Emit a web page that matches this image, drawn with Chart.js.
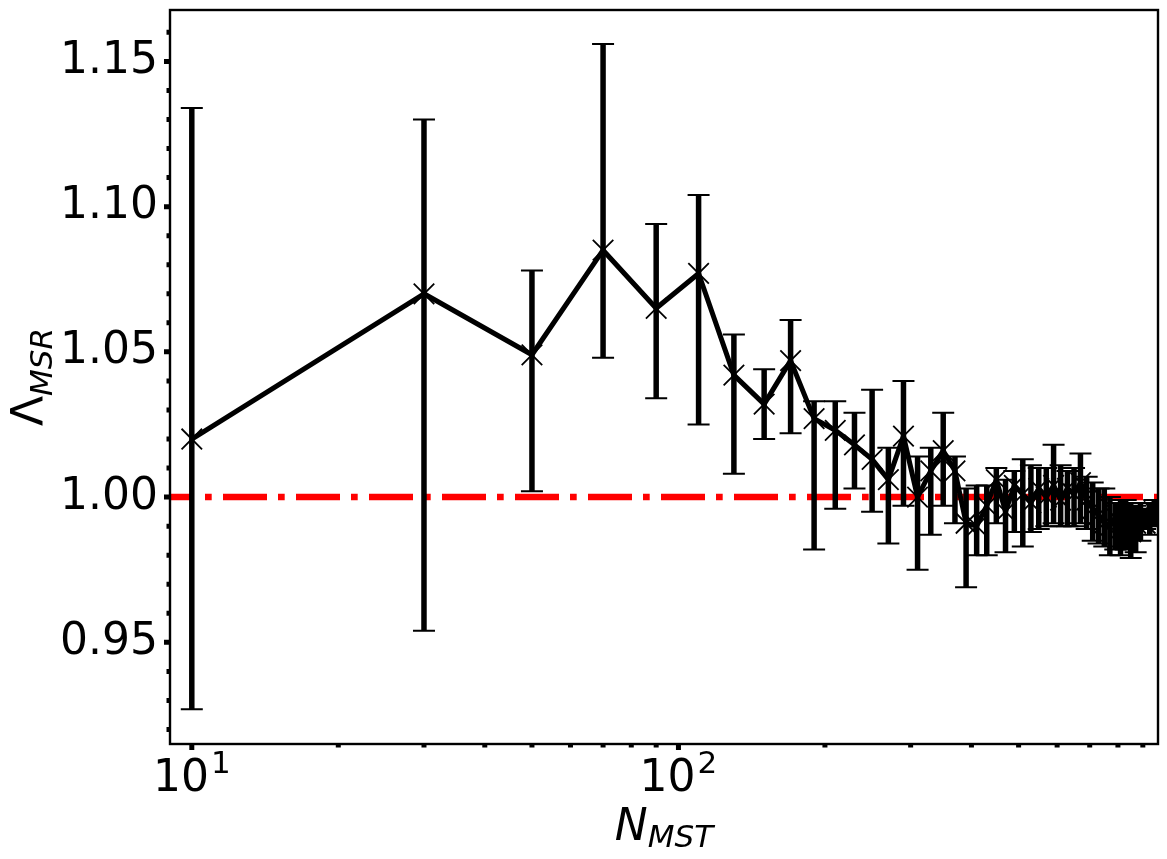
<!DOCTYPE html>
<html>
<head>
<meta charset="utf-8">
<script src="https://cdn.jsdelivr.net/npm/chart.js@4.4.1/dist/chart.umd.min.js"></script>
<style>
  html, body { margin: 0; padding: 0; background: #fff; }
  canvas { display: block; }
</style>
</head>
<body>
<canvas id="chart" width="1167" height="859"></canvas>
<script>
/* data */
var nMst = [10, 30, 50, 70, 90, 110, 130, 150, 170, 190, 210, 230, 250, 270, 290, 310,
            330, 350, 370, 390, 410, 430, 450, 470, 490, 510, 530, 550, 570, 590, 610, 630,
            650, 670, 690, 710, 730, 750, 770, 790, 810, 830, 850, 870, 890, 910, 930, 950];

var lambdaMsr = [1.020, 1.070, 1.049, 1.085, 1.065, 1.077, 1.042, 1.032, 1.047, 1.027, 1.023, 1.018, 1.013, 1.006, 1.021, 1.000,
                 1.009, 1.016, 1.009, 0.991, 0.990, 0.997, 1.006, 0.995, 1.004, 1.001, 0.998, 1.003, 1.000, 1.004, 0.999, 1.003,
                 1.001, 1.005, 0.999, 0.996, 0.994, 0.991, 0.990, 0.993, 0.989, 0.992, 0.988, 0.991, 0.994, 0.991, 0.993, 0.995];

var errHigh = [1.134, 1.130, 1.078, 1.156, 1.094, 1.104, 1.056, 1.044, 1.061, 1.033, 1.033, 1.029, 1.037, 1.017, 1.040, 1.014,
               1.017, 1.029, 1.014, 1.003, 1.004, 1.004, 1.010, 1.006, 1.009, 1.013, 1.011, 1.010, 1.010, 1.018, 1.011, 1.009,
               1.010, 1.015, 1.007, 1.005, 1.003, 1.003, 1.000, 0.998, 0.999, 0.999, 0.998, 0.997, 0.998, 0.996, 0.998, 0.999];

var errLow = [0.927, 0.954, 1.002, 1.048, 1.034, 1.025, 1.008, 1.020, 1.022, 0.982, 0.996, 1.003, 0.995, 0.984, 0.997, 0.975,
              0.987, 0.997, 0.991, 0.969, 0.980, 0.980, 0.991, 0.981, 0.988, 0.983, 0.988, 0.989, 0.990, 0.991, 0.990, 0.990,
              0.990, 0.991, 0.989, 0.985, 0.984, 0.983, 0.980, 0.982, 0.980, 0.982, 0.979, 0.981, 0.985, 0.989, 0.987, 0.990];

var refLevel = 1.0;

var yTickValues = [0.95, 1.00, 1.05, 1.10, 1.15];
var yTickLabels = ['0.95', '1.00', '1.05', '1.10', '1.15'];
var xTickValues = [10, 100];
var xTickBases = ['10', '10'];
var xTickExps = ['1', '2'];

var xMin = 9.02, xMax = 967;
var yMin = 0.915, yMax = 1.1677;

var FONT = '"DejaVu Sans", "Liberation Sans", sans-serif';

/* error bars, frame, ticks, axis labels */
var mplDecor = {
  id: 'mplDecor',
  afterDatasetsDraw: function(chart) {
    var ctx = chart.ctx, a = chart.chartArea;
    var xs = chart.scales.x, ys = chart.scales.y;
    ctx.save();
    ctx.beginPath();
    ctx.rect(a.left, a.top, a.right - a.left, a.bottom - a.top);
    ctx.clip();
    ctx.strokeStyle = '#000';
    for (var i = 0; i < nMst.length; i++) {
      var px = xs.getPixelForValue(nMst[i]);
      var top = ys.getPixelForValue(errHigh[i]);
      var bot = ys.getPixelForValue(errLow[i]);
      ctx.lineWidth = 5.5;
      ctx.beginPath();
      ctx.moveTo(px, top); ctx.lineTo(px, bot);
      ctx.stroke();
      ctx.lineWidth = 2;
      ctx.beginPath();
      ctx.moveTo(px - 11, top); ctx.lineTo(px + 11, top);
      ctx.moveTo(px - 11, bot); ctx.lineTo(px + 11, bot);
      ctx.stroke();
    }
    ctx.restore();
  },
  afterDraw: function(chart) {
    var ctx = chart.ctx, a = chart.chartArea;
    var xs = chart.scales.x, ys = chart.scales.y;
    ctx.save();
    ctx.strokeStyle = '#000';
    ctx.fillStyle = '#000';

    // ticks (outward, matplotlib style)
    ctx.lineWidth = 5;
    ctx.beginPath();
    yTickValues.forEach(function(v) {
      var py = ys.getPixelForValue(v);
      ctx.moveTo(a.left - 6, py); ctx.lineTo(a.left, py);
    });
    for (var k = 92; k <= 116; k++) {
      if (k % 5 === 0) continue;
      var py = ys.getPixelForValue(k / 100);
      ctx.moveTo(a.left - 3.5, py); ctx.lineTo(a.left, py);
    }
    xTickValues.forEach(function(v) {
      var px = xs.getPixelForValue(v);
      ctx.moveTo(px, a.bottom); ctx.lineTo(px, a.bottom + 6);
    });
    [20, 30, 40, 50, 60, 70, 80, 90, 200, 300, 400, 500, 600, 700, 800, 900].forEach(function(v) {
      var px = xs.getPixelForValue(v);
      ctx.moveTo(px, a.bottom); ctx.lineTo(px, a.bottom + 3.5);
    });
    ctx.stroke();

    // frame
    ctx.lineWidth = 2.4;
    ctx.strokeRect(a.left, a.top, a.right - a.left, a.bottom - a.top);

    // x tick labels with superscripts
    ctx.textBaseline = 'alphabetic';
    ctx.textAlign = 'left';
    xTickValues.forEach(function(v, i) {
      var px = xs.getPixelForValue(v);
      ctx.font = '44px ' + FONT;
      var wb = ctx.measureText(xTickBases[i]).width;
      ctx.font = '31px ' + FONT;
      var we = ctx.measureText(xTickExps[i]).width;
      var x0 = px - (wb + we + 2) / 2;
      ctx.font = '44px ' + FONT;
      ctx.fillText(xTickBases[i], x0, 791);
      ctx.font = '31px ' + FONT;
      ctx.fillText(xTickExps[i], x0 + wb + 2, 773);
    });

    // x axis label N_MST
    ctx.font = 'italic 44px ' + FONT;
    var wN = ctx.measureText('N').width;
    ctx.font = 'italic 31px ' + FONT;
    var wS = ctx.measureText('MST').width;
    var cx = (a.left + a.right) / 2;
    var sx = cx - (wN + wS) / 2;
    ctx.font = 'italic 44px ' + FONT;
    ctx.fillText('N', sx, 840);
    ctx.font = 'italic 31px ' + FONT;
    ctx.fillText('MST', sx + wN, 847);

    // y axis label Λ_MSR
    ctx.save();
    ctx.translate(43, (a.top + a.bottom) / 2);
    ctx.rotate(-Math.PI / 2);
    ctx.font = '44px ' + FONT;
    var wL = ctx.measureText('\u039B').width;
    ctx.font = 'italic 31px ' + FONT;
    var wR = ctx.measureText('MSR').width;
    var s0 = -(wL + wR) / 2;
    ctx.font = '44px ' + FONT;
    ctx.fillText('\u039B', s0, 0);
    ctx.font = 'italic 31px ' + FONT;
    ctx.fillText('MSR', s0 + wL, 9);
    ctx.restore();

    ctx.restore();
  }
};

var points = nMst.map(function(n, i) { return { x: n, y: lambdaMsr[i] }; });

new Chart(document.getElementById('chart'), {
  type: 'line',
  data: {
    datasets: [
      {
        label: 'Lambda',
        data: points,
        borderColor: '#000',
        borderWidth: 5,
        borderJoinStyle: 'round',
        tension: 0,
        fill: false,
        pointStyle: 'crossRot',
        pointRadius: 14.5,
        pointBorderWidth: 1.8,
        pointBorderColor: '#000',
        pointBackgroundColor: '#000',
        clip: 0,
        order: 0
      },
      {
        label: 'reference',
        data: [{ x: xMin, y: refLevel }, { x: xMax, y: refLevel }],
        borderColor: '#ff0000',
        borderWidth: 6.5,
        borderDash: [44, 11, 6.7, 11.3],
        borderDashOffset: 20,
        borderCapStyle: 'butt',
        pointRadius: 0,
        fill: false,
        clip: 0,
        order: 2
      }
    ]
  },
  options: {
    responsive: false,
    animation: false,
    events: [],
    layout: { autoPadding: false, padding: { left: 0, right: 9, top: 10, bottom: 0 } },
    plugins: {
      legend: { display: false },
      tooltip: { enabled: false },
      title: { display: false }
    },
    scales: {
      x: {
        type: 'logarithmic',
        min: xMin,
        max: xMax,
        bounds: 'data',
        grid: { display: false, drawTicks: false },
        border: { display: false },
        ticks: { display: false },
        afterBuildTicks: function(s) { s.ticks = xTickValues.map(function(v) { return { value: v }; }); },
        afterFit: function(s) {
          s.height = 115;
          s.paddingLeft = 0; s.paddingRight = 0; s.paddingTop = 0; s.paddingBottom = 0;
        }
      },
      y: {
        type: 'linear',
        min: yMin,
        max: yMax,
        bounds: 'data',
        grid: { display: false, drawTicks: false },
        border: { display: false },
        ticks: {
          color: '#000',
          font: { family: FONT, size: 44 },
          padding: 12,
          autoSkip: false,
          callback: function(v) {
            var i = yTickValues.indexOf(v);
            return i >= 0 ? yTickLabels[i] : '';
          }
        },
        afterBuildTicks: function(s) { s.ticks = yTickValues.map(function(v) { return { value: v }; }); },
        afterFit: function(s) {
          s.width = 170;
          s.paddingLeft = 0; s.paddingRight = 0; s.paddingTop = 0; s.paddingBottom = 0;
        }
      }
    }
  },
  plugins: [mplDecor]
});
</script>
</body>
</html>
